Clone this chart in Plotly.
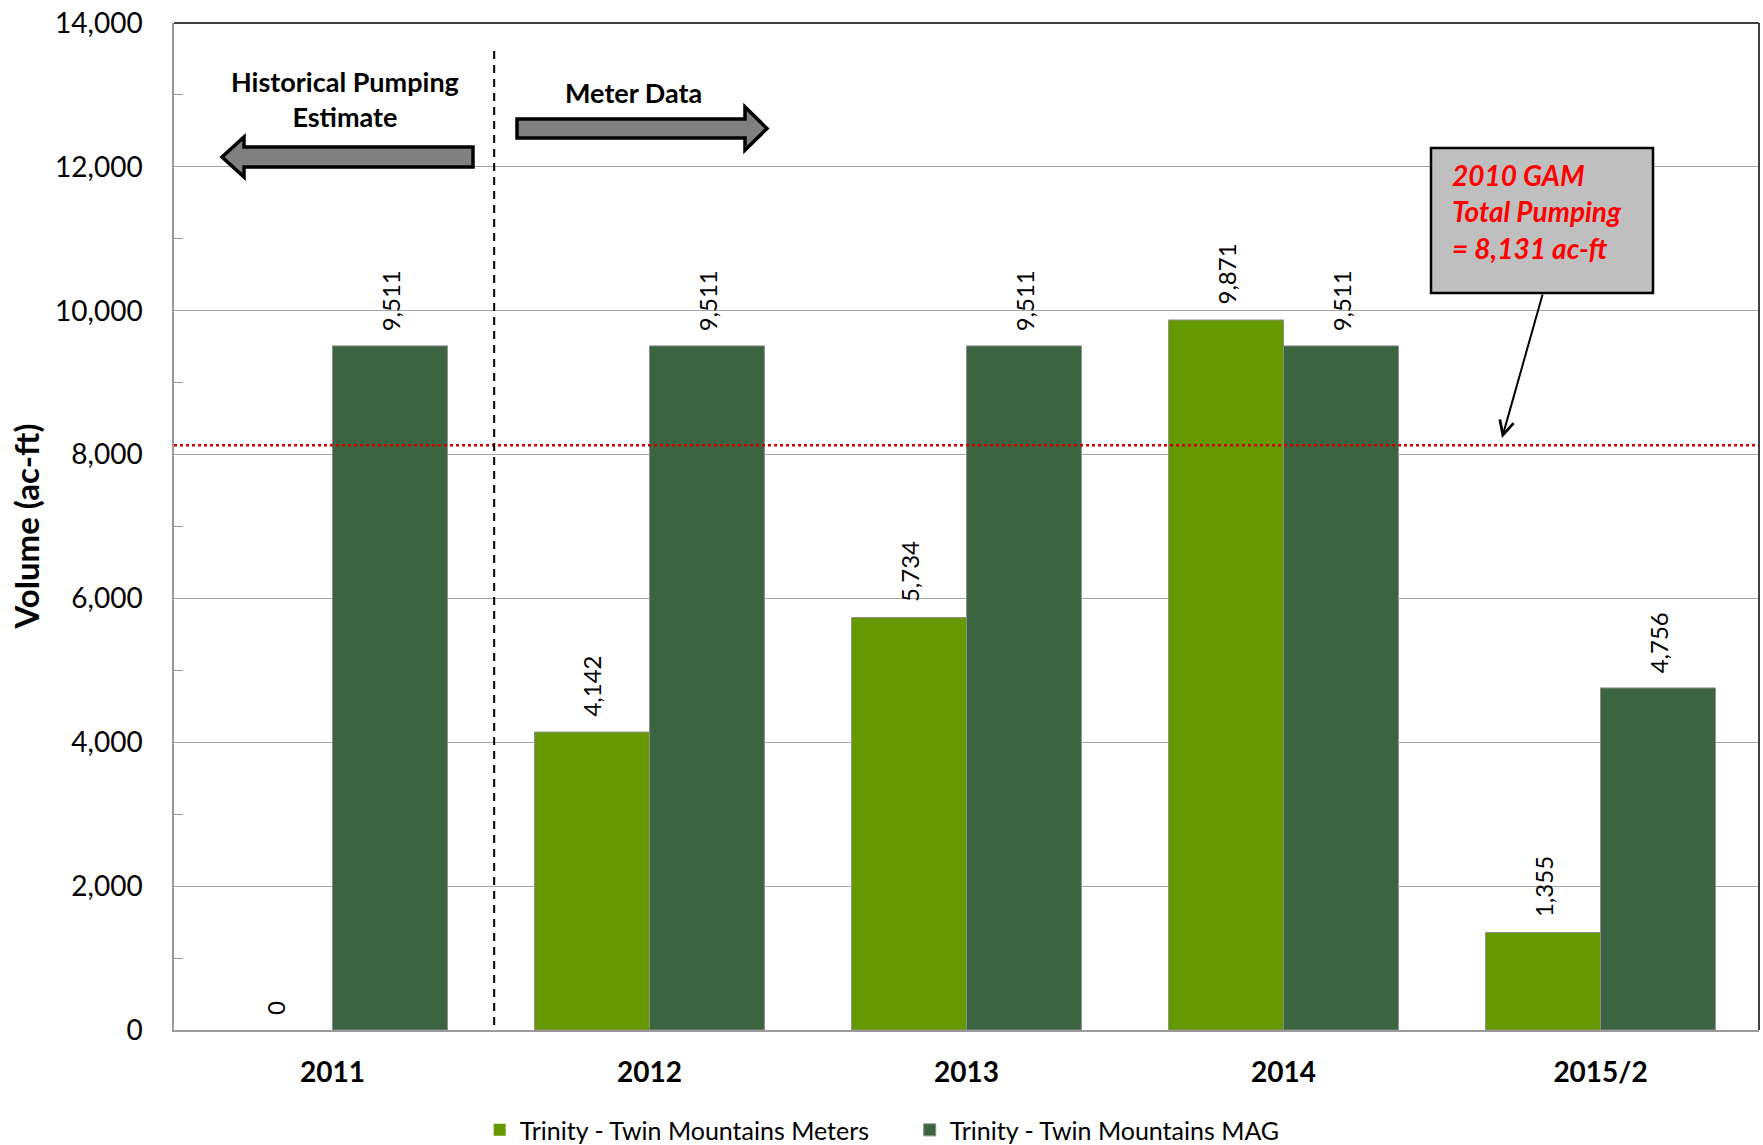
import plotly.graph_objects as go

# ---- data ----
years = ["2011", "2012", "2013", "2014", "2015/2"]
meters = [0, 4142, 5734, 9871, 1355]
mag = [9511, 9511, 9511, 9511, 4756]
gam_total = 8131

series_names = ["Trinity - Twin Mountains Meters", "Trinity - Twin Mountains MAG"]
series_colors = ["#669900", "#3C6440"]

# ---- figure geometry (pixels) ----
W, H = 1763, 1145
ML, MR, MT, MB = 174, 4, 23, 115
PW, PH = W - ML - MR, H - MT - MB
BARGAP = 0.275
FONT = "Lato"


def px(x):
    """pixel x -> paper x"""
    return (x - ML) / PW


def py(y):
    """pixel y -> paper y"""
    return (H - MB - y) / PH


fig = go.Figure()
for name, vals, col in zip(series_names, [meters, mag], series_colors):
    fig.add_trace(go.Bar(
        x=years, y=vals, name=name,
        marker=dict(color=col,
                    line=dict(color="#8C8C8C", width=[0 if v == 0 else 1 for v in vals])),
    ))

# rotated value labels above each bar
half = (1 - BARGAP) / 4
annotations = []
for k, vals in enumerate([meters, mag]):
    off = -half if k == 0 else half
    for i, v in enumerate(vals):
        annotations.append(dict(
            x=i + off, y=v, xref="x", yref="y",
            text=f"{v:,}", textangle=-90, showarrow=False,
            xanchor="center", yanchor="bottom", yshift=13,
            font=dict(family=FONT, size=24, color="#000000"),
        ))

# axis title
annotations.append(dict(
    x=px(25), y=0.5, xref="paper", yref="paper", text="Volume (ac-ft)",
    textangle=-90, showarrow=False, xanchor="center", yanchor="middle",
    font=dict(family=FONT, size=33, color="#000000", weight="bold"),
))

# period captions
annotations.append(dict(
    x=px(345), y=py(99), xref="paper", yref="paper",
    text="Historical Pumping<br>Estimate", showarrow=False,
    xanchor="center", yanchor="middle",
    font=dict(family=FONT, size=27, color="#000000", weight="bold"),
))
annotations.append(dict(
    x=px(633), y=py(92), xref="paper", yref="paper",
    text="Meter Data", showarrow=False,
    xanchor="center", yanchor="middle",
    font=dict(family=FONT, size=27, color="#000000", weight="bold"),
))

# GAM callout text and pointer
annotations.append(dict(
    x=px(1450), y=py(212), xref="paper", yref="paper",
    text="2010 GAM<br>Total Pumping<br>= 8,131 ac-ft", showarrow=False,
    xanchor="left", yanchor="middle", align="left",
    font=dict(family=FONT, size=28, color="#FF0000", weight="bold", style="italic"),
))
annotations.append(dict(
    x=px(1502), y=py(438), xref="paper", yref="paper", text="",
    showarrow=True, ax=41, ay=-145, arrowhead=5, arrowsize=1.4,
    arrowwidth=2, arrowcolor="#000000", standoff=0,
))

shapes = [
    # GAM total pumping reference line
    dict(type="line", xref="paper", yref="y", x0=0, x1=1, y0=gam_total, y1=gam_total,
         line=dict(color="#CC0000", width=2.5, dash="dot")),
    # divider between estimate and metered periods
    dict(type="line", xref="x", yref="y", x0=0.51, x1=0.51, y0=70, y1=13620,
         line=dict(color="#000000", width=2, dash="8px,6px")),
    # frame top / right
    dict(type="line", xref="paper", yref="paper", x0=0, x1=1, y0=1, y1=1,
         line=dict(color="#404040", width=2)),
    dict(type="line", xref="paper", yref="paper", x0=1, x1=1, y0=0, y1=1,
         line=dict(color="#404040", width=2)),
    # left block arrow
    dict(type="path", xref="paper", yref="paper",
         path=(f"M{px(222)},{py(157)} L{px(244)},{py(137)} L{px(244)},{py(147)} "
               f"L{px(473)},{py(147)} L{px(473)},{py(167)} L{px(244)},{py(167)} "
               f"L{px(244)},{py(177)} Z"),
         fillcolor="#808080", line=dict(color="#000000", width=3.5)),
    # right block arrow
    dict(type="path", xref="paper", yref="paper",
         path=(f"M{px(767)},{py(128.5)} L{px(745)},{py(107)} L{px(745)},{py(119)} "
               f"L{px(517)},{py(119)} L{px(517)},{py(138)} L{px(745)},{py(138)} "
               f"L{px(745)},{py(150)} Z"),
         fillcolor="#808080", line=dict(color="#000000", width=3.5)),
    # callout box
    dict(type="rect", xref="paper", yref="paper",
         x0=px(1431), x1=px(1653), y0=py(293), y1=py(148),
         fillcolor="#BFBFBF", line=dict(color="#000000", width=2.5), layer="above"),
]

fig.update_layout(
    width=W, height=H,
    margin=dict(l=ML, r=MR, t=MT, b=MB, pad=0),
    plot_bgcolor="#FFFFFF", paper_bgcolor="#FFFFFF",
    barmode="group", bargap=BARGAP, bargroupgap=0,
    font=dict(family=FONT, color="#000000"),
    showlegend=True,
    legend=dict(
        orientation="h", xref="container", yref="container",
        x=0.516, xanchor="center", y=0.013, yanchor="middle",
        font=dict(family=FONT, size=25, color="#000000"),
        itemwidth=30, entrywidth=385, entrywidthmode="pixels",
    ),
    annotations=annotations,
    shapes=shapes,
)

fig.update_xaxes(
    type="category", showline=True, linecolor="#999999", linewidth=1.5,
    ticks="", showgrid=False, ticklabelstandoff=17,
    tickfont=dict(family=FONT, size=28, color="#000000", weight="bold"),
)
fig.update_yaxes(
    range=[0, 14000], dtick=2000, tickformat=",",
    showline=True, linecolor="#999999", linewidth=1.5,
    showgrid=True, gridcolor="#A6A6A6", gridwidth=1,
    ticks="", ticklabelstandoff=24, zeroline=False,
    minor=dict(dtick=1000, ticks="inside", ticklen=9, tickcolor="#999999",
               showgrid=False),
    tickfont=dict(family=FONT, size=28, color="#000000"),
)

fig.write_html("out.html")
